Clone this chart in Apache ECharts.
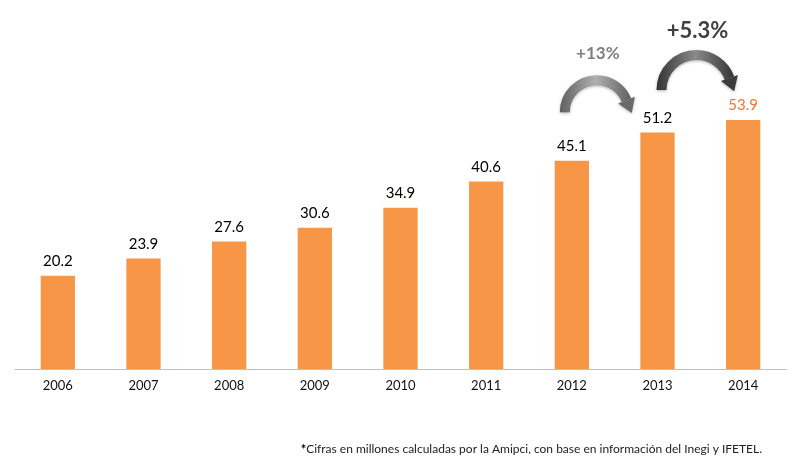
<!DOCTYPE html>
<html><head><meta charset="utf-8">
<script src="https://cdn.jsdelivr.net/npm/echarts@6/dist/echarts.min.js"></script>
<style>html,body{margin:0;padding:0;background:#fff}#c{width:800px;height:473px}</style>
</head><body><div id="c"></div>
<script>
const years = ['2006','2007','2008','2009','2010','2011','2012','2013','2014'];
const users = [20.2, 23.9, 27.6, 30.6, 34.9, 40.6, 45.1, 51.2, 53.9];
const growthLabels = ['+13%', '+5.3%'];
const growthFrom = ['2012', '2013'];
const growthTo = ['2013', '2014'];
const footnote = 'Cifras en millones calculadas por la Amipci, con base en información del Inegi y IFETEL.';

const FONT = 'Lato, "Open Sans", sans-serif';
const chart = echarts.init(document.getElementById('c'));

// arc anchored on the "from" category, base level in data units
const arrowStyles = [
  {base: 55.6, dx: 25, r: 32, endDeg: 22, textColor: '#7f7f7f', textSize: 17, textGap: 27, dark: '#5f5f5f', light: '#b0b0b0', head: '#6a6a6a'},
  {base: 60.4, dx: 39, r: 35, endDeg: 20, textColor: '#404040', textSize: 22, textGap: 24, dark: '#333333', light: '#8a8a8a', head: '#3c3c3c'}
];

chart.setOption({
  animation: false,
  grid: {left: 15, right: 14, top: 45.6, bottom: 104},
  xAxis: {
    type: 'category', data: years,
    axisLine: {lineStyle: {color: '#bfbfbf', width: 1}},
    axisTick: {lineStyle: {color: '#bfbfbf'}, length: 5},
    axisLabel: {color: '#111', fontSize: 13, fontFamily: FONT, margin: 10}
  },
  yAxis: {type: 'value', min: 0, max: 70, show: false, splitLine: {show: false}},
  series: [
    {
      type: 'bar', data: users.map((v, i) => ({
        value: v,
        label: i === users.length - 1 ? {color: '#f0782d'} : {}
      })),
      barWidth: '40%',
      itemStyle: {color: '#f79646'},
      label: {show: true, position: 'top', distance: 7, color: '#000', fontSize: 15, fontFamily: FONT}
    },
    {
      type: 'custom',
      clip: false,
      data: growthFrom.map((f, i) => [years.indexOf(f), years.indexOf(growthTo[i]), i]),
      renderItem: function (params, api) {
        const i = api.value(2);
        const s = arrowStyles[i];
        const c = api.coord([api.value(0), s.base]);
        const cx = c[0] + s.dx, cy = c[1];
        const r = s.r;
        const th = -s.endDeg * Math.PI / 180;
        const ex = cx + r * Math.cos(th), ey = cy + r * Math.sin(th);
        // tangent (clockwise in screen coords)
        const ux = -Math.sin(th), uy = Math.cos(th);
        const px = -uy, py = ux;
        const hw = 9, hl = 14;
        const tipX = ex + ux * hl, tipY = ey + uy * hl;
        const grad = new echarts.graphic.LinearGradient(0, 0, 1, 0, [
          {offset: 0, color: s.dark},
          {offset: 0.5, color: s.light},
          {offset: 1, color: s.dark}
        ]);
        return {
          type: 'group',
          children: [
            {
              type: 'arc',
              shape: {cx: cx, cy: cy, r: r, startAngle: Math.PI, endAngle: 2 * Math.PI + th, clockwise: true},
              style: {stroke: grad, lineWidth: 10, fill: null, lineCap: 'butt',
                shadowBlur: 3, shadowColor: 'rgba(0,0,0,0.3)', shadowOffsetY: 1}
            },
            {
              type: 'polygon',
              shape: {points: [[ex + px * hw, ey + py * hw], [tipX, tipY], [ex - px * hw, ey - py * hw]]},
              style: {fill: s.head, shadowBlur: 3, shadowColor: 'rgba(0,0,0,0.3)', shadowOffsetY: 1}
            },
            {
              type: 'text',
              style: {text: growthLabels[i], x: cx + 1, y: cy - r - s.textGap, align: 'center', verticalAlign: 'middle',
                fill: s.textColor, font: 'bold ' + s.textSize + 'px ' + FONT}
            }
          ]
        };
      }
    }
  ],
  graphic: [{
    type: 'text', right: 38, top: 443,
    style: {
      text: '{a|*}' + footnote,
      font: '12px ' + FONT, fill: '#222',
      rich: {a: {font: 'bold 13px ' + FONT, fill: '#000'}}
    }
  }]
});
</script></body></html>
